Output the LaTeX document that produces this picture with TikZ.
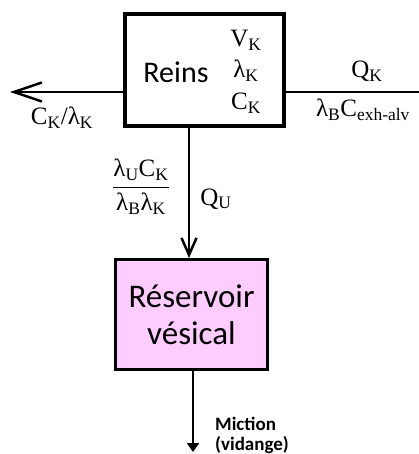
\documentclass[tikz,border=0pt]{standalone}
\usepackage{amsmath}
\usepackage{fontspec}
\setmainfont{Liberation Serif}
\newfontfamily\calibri{Carlito}
\usetikzlibrary{arrows.meta}
\definecolor{vessie}{RGB}{255,204,255}

\begin{document}
\begin{tikzpicture}[x=1pt, y=-1pt,
    flux/.style={line width=2.5pt},
    lab/.style={font=\fontsize{25}{30}\selectfont, inner sep=0pt, anchor=base}]
  \useasboundingbox (0,0) rectangle (419,454);
  \node[draw, line width=4pt, minimum width=159pt, minimum height=112pt] (reins) at (204.5,70) {};
  \node[font=\calibri\fontsize{30}{36}\selectfont, inner sep=0pt, anchor=base] (nomreins) at (176,83) {Reins};
  \node[lab] (vk) at (246,47) {V\textsubscript{K}};
  \node[lab] (lk) at (246,78) {λ\textsubscript{K}};
  \node[lab] (ck) at (246,110) {C\textsubscript{K}};
  \node[draw, line width=3pt, fill=vessie, minimum width=152pt, minimum height=110pt,
        font=\calibri\fontsize{33}{37}\selectfont, align=center] (vessie) at (191.5,314.5) {Réservoir\\vésical};
  \coordinate (gauche) at (10,92);
  \coordinate (droite) at (419,92);
  \coordinate (bas) at (193,452);
  \draw[flux, -{Straight Barb[length=28pt, width=19pt]}] (reins.west |- gauche) -- (gauche);
  \draw[flux] (reins.east |- droite) -- (droite);
  \draw[flux, -{Straight Barb[length=17pt, width=15pt]}] (reins.south -| 189,0) -- (vessie.north -| 189,0);
  \draw[flux, -{Triangle[length=9pt, width=12pt]}] (vessie.south -| bas) -- (bas);
  \node[lab] (qk) at (367,78) {Q\textsubscript{K}};
  \node[lab] (cexh) at (363,117) {λ\textsubscript{B}C\textsubscript{exh-alv}};
  \node[lab] (ckl) at (62,125) {C\textsubscript{K}/λ\textsubscript{K}};
  \node[font=\fontsize{25}{30}\selectfont, inner sep=0pt] (frac) at (141,187) {$\dfrac{\text{λ\textsubscript{U}C\textsubscript{K}}}{\text{λ\textsubscript{B}λ\textsubscript{K}}}$};
  \node[lab] (qu) at (216,205) {Q\textsubscript{U}};
  \node[font=\calibri\bfseries\fontsize{19}{19}\selectfont, align=left, anchor=north west, inner sep=0pt] (miction) at (215,417) {Miction\\[1pt](vidange)};
\end{tikzpicture}
\end{document}
